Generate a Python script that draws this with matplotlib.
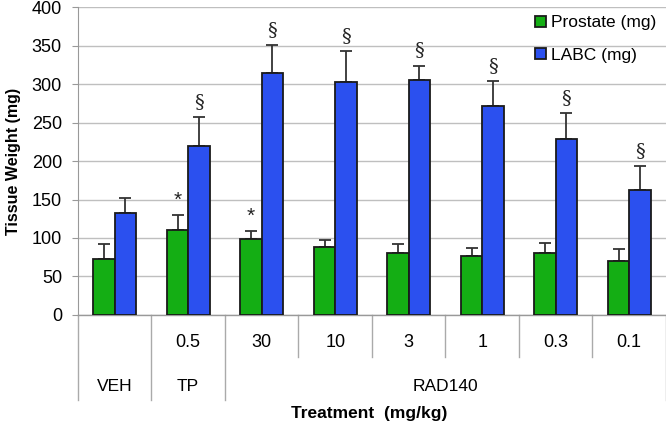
import matplotlib
matplotlib.use("Agg")
import matplotlib.pyplot as plt
import matplotlib.transforms as mtransforms
import numpy as np

plt.rcParams['font.family'] = ['Liberation Sans', 'DejaVu Sans']

doses = ["", "0.5", "30", "10", "3", "1", "0.3", "0.1"]
groups = ["VEH", "TP", "RAD140"]
group_spans = [(0, 1), (1, 2), (2, 8)]
prostate = [73, 111, 99, 88, 81, 76, 81, 70]
prostate_err = [19, 19, 10, 10, 11, 11, 13, 16]
labc = [133, 220, 314, 303, 305, 271, 229, 162]
labc_err = [19, 37, 37, 40, 19, 33, 33, 31]
prostate_marks = ["", "*", "*", "", "", "", "", ""]
labc_marks = ["", "§", "§", "§", "§", "§", "§", "§"]

green = "#14ae14"
blue = "#2b50ef"

fig = plt.figure(figsize=(6.66, 4.25), dpi=100)
ax = fig.add_axes([0.117, 0.259, 0.883, 0.724])

n = len(doses)
x = np.arange(n) + 0.5
w = 0.29
ax.bar(x - w / 2, prostate, w, color=green, edgecolor="#1a1a1a", linewidth=1.3, zorder=3, label="Prostate (mg)")
ax.bar(x + w / 2, labc, w, color=blue, edgecolor="#1a1a1a", linewidth=1.3, zorder=3, label="LABC (mg)")
ax.errorbar(x - w / 2, prostate, yerr=[np.zeros(n), prostate_err], fmt="none", ecolor="#333333",
            elinewidth=1.3, capsize=4.5, capthick=1.3, zorder=2)
ax.errorbar(x + w / 2, labc, yerr=[np.zeros(n), labc_err], fmt="none", ecolor="#333333",
            elinewidth=1.3, capsize=4.5, capthick=1.3, zorder=2)

for i in range(n):
    if prostate_marks[i]:
        ax.text(x[i] - w / 2, prostate[i] + prostate_err[i] + 7, prostate_marks[i], ha="center",
                va="bottom", fontsize=15, color="#222222")
    if labc_marks[i]:
        ax.text(x[i] + w / 2, labc[i] + labc_err[i] + 8, labc_marks[i], ha="center",
                va="bottom", fontsize=14, color="#222222", family="DejaVu Serif")

ax.set_xlim(0, n)
ax.set_ylim(0, 400)
ax.set_yticks(np.arange(0, 401, 50))
ax.yaxis.grid(True, color="#bfbfbf", linewidth=1.0, zorder=0)
ax.set_axisbelow(True)
ax.tick_params(axis="y", labelsize=13, length=4.5, color="#999999", pad=7)
ax.set_xticks([])
for s in ["top", "right"]:
    ax.spines[s].set_visible(False)
ax.spines["left"].set_color("#999999")
ax.spines["bottom"].set_color("#999999")
ax.spines["bottom"].set_linewidth(1.0)
ax.set_ylabel("Tissue Weight (mg)", fontsize=11.5, fontweight="bold", labelpad=8)

# category table below axis
trans = mtransforms.blended_transform_factory(ax.transData, ax.transAxes)
line_kw = dict(color="#aaaaaa", linewidth=1.0, clip_on=False, transform=trans)
full_bottom = -0.275
short_bottom = -0.137
for b in range(n + 1):
    is_group_edge = any(b == s for s, e in group_spans) or b == n
    ax.plot([b, b], [0, full_bottom if is_group_edge else short_bottom], **line_kw)
for i, d in enumerate(doses):
    ax.text(x[i], -0.09, d, transform=trans, ha="center", va="center", fontsize=13)
for g, (s, e) in zip(groups, group_spans):
    ax.text((s + e) / 2, -0.232, g, transform=trans, ha="center", va="center", fontsize=12.5)
ax.text(0.495, -0.32, "Treatment  (mg/kg)", transform=ax.transAxes, ha="center", va="center",
        fontsize=12.5, fontweight="bold")

leg = ax.legend(loc="upper right", bbox_to_anchor=(1.01, 1.025), frameon=False, fontsize=12.5,
                handlelength=0.6, handleheight=0.6, handletextpad=0.3, labelspacing=1.0)

fig.savefig("out.png", dpi=100)
